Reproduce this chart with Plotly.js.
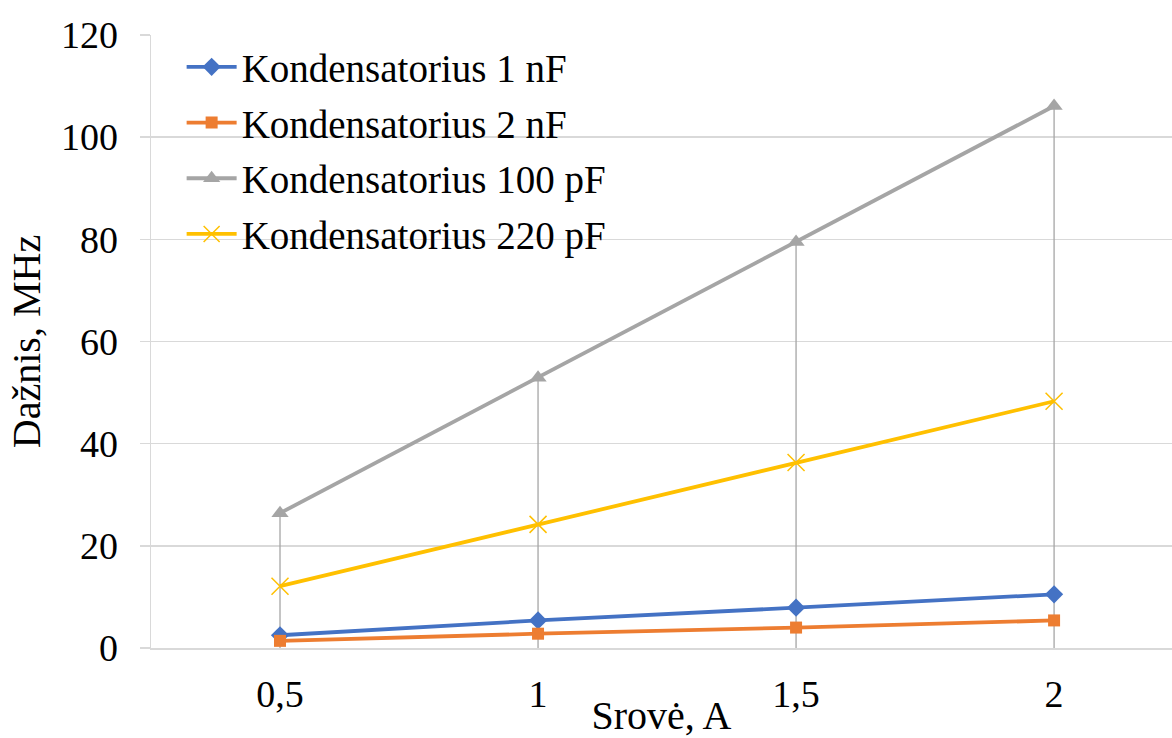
<!DOCTYPE html>
<html>
<head>
<meta charset="utf-8">
<script src="https://cdn.plot.ly/plotly-3.0.1.min.js"></script>
<style>html,body{margin:0;padding:0;background:#fff;}#chart{width:1172px;height:738px;}</style>
</head>
<body>
<div id="chart"></div>
<script>
const categories = ["0,5", "1", "1,5", "2"];
const seriesNames = ["Kondensatorius 1 nF", "Kondensatorius 2 nF", "Kondensatorius 100 pF", "Kondensatorius 220 pF"];
const c1nF = [2.5, 5.4, 7.9, 10.5];
const c2nF = [1.4, 2.8, 4.0, 5.4];
const c100pF = [26.4, 52.9, 79.5, 106.1];
const c220pF = [12.1, 24.2, 36.3, 48.3];
const yTicks = [0, 20, 40, 60, 80, 100, 120];

const allSeries = [c1nF, c2nF, c100pF, c220pF];
const colors = ["#4472c4", "#ed7d31", "#a5a5a5", "#ffc000"];
const symbols = ["diamond", "square", "triangle-up", "x-thin-open"];
const msizes = [14, 12, 15, 17];

// drop lines from highest point down to axis
const dx = [], dy = [];
categories.forEach((c, i) => {
  const m = Math.max(...allSeries.map(s => s[i]));
  dx.push(c, c, null); dy.push(0, m, null);
});

const traces = [{
  x: dx, y: dy, type: 'scatter', mode: 'lines',
  line: {color: '#a5a5a5', width: 1.3}, showlegend: false, hoverinfo: 'skip'
}];
allSeries.forEach((s, k) => {
  traces.push({
    x: categories, y: s, type: 'scatter', mode: 'lines+markers',
    name: seriesNames[k], legendgroup: 'g' + k,
    line: {color: colors[k], width: 3.8},
    marker: {symbol: symbols[k], size: msizes[k], color: colors[k],
             line: {color: colors[k], width: k === 3 ? 1.5 : 0}}
  });
});

const FONT = 'Liberation Serif, Times New Roman, serif';
const layout = {
  width: 1172, height: 738,
  margin: {l: 151, r: 0, t: 35, b: 90},
  paper_bgcolor: '#fff', plot_bgcolor: '#fff',
  font: {family: FONT, size: 38, color: '#000'},
  xaxis: {
    type: 'category', range: [-0.5, 3.457],
    showgrid: false, showline: true, linecolor: '#d9d9d9', linewidth: 1.5,
    ticks: '', tickfont: {size: 38}, ticklabelstandoff: 12,
    title: {text: 'Srovė, A', font: {size: 40}, standoff: 0}
  },
  yaxis: {
    range: [0, 120], tickvals: yTicks,
    showgrid: true, gridcolor: '#d9d9d9', gridwidth: 1.5,
    showline: true, linecolor: '#d9d9d9', linewidth: 1.5,
    ticks: 'outside', ticklen: 10, tickcolor: '#d9d9d9', tickwidth: 1.5,
    tickfont: {size: 38}, zeroline: false, ticklabelstandoff: 14,
    title: {text: 'Dažnis, MHz', font: {size: 40}, standoff: 8}
  },
  legend: {
    x: 0.03, y: 1.0, xanchor: 'left', yanchor: 'top',
    bgcolor: 'rgba(0,0,0,0)', font: {size: 39},
    itemwidth: 50, tracegroupgap: 2
  },
  showlegend: true
};
Plotly.newPlot('chart', traces, layout, {displayModeBar: false, staticPlot: true});
</script>
</body>
</html>
